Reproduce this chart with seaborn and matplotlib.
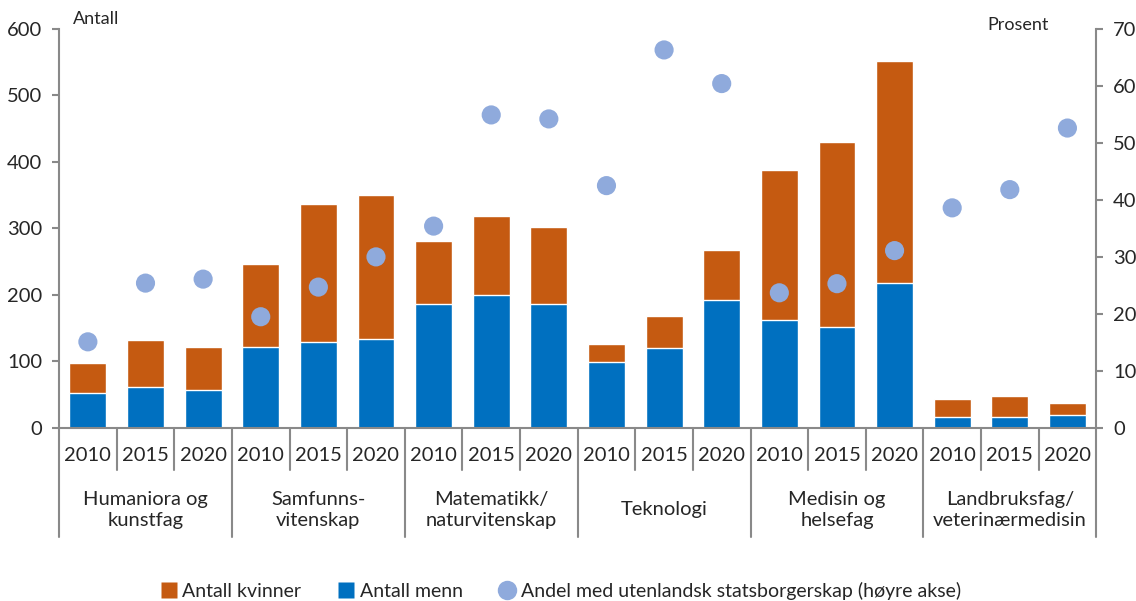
import seaborn as sns
import matplotlib.pyplot as plt
import matplotlib.transforms as mtransforms
from matplotlib.lines import Line2D
import pandas as pd

# data
groups = ['Humaniora og\nkunstfag', 'Samfunns-\nvitenskap', 'Matematikk/\nnaturvitenskap',
          'Teknologi', 'Medisin og\nhelsefag', 'Landbruksfag/\nveterinærmedisin']
years = ['2010', '2015', '2020']
menn = [52, 62, 57, 122, 129, 134, 186, 200, 186, 99, 120, 192, 162, 152, 218, 17, 17, 20]
totalt = [98, 132, 122, 247, 337, 350, 281, 319, 302, 126, 168, 268, 388, 430, 552, 44, 48, 38]
kvinner = [t - m for t, m in zip(totalt, menn)]
andel_utl = [15.1, 25.4, 26.1, 19.5, 24.7, 30.0, 35.4, 54.9, 54.2,
             42.5, 66.3, 60.4, 23.7, 25.3, 31.1, 38.6, 41.8, 52.6]

df = pd.DataFrame({
    'gruppe': [g for g in groups for _ in years],
    'aar': years * len(groups),
    'menn': menn,
    'kvinner': kvinner,
    'andel': andel_utl,
})
df['kat'] = df['gruppe'] + ' ' + df['aar']
df['pos'] = range(len(df))

sns.set_style('white')
plt.rcParams['font.family'] = ['Lato', 'DejaVu Sans']

grey = '#898989'
orange = '#C55A11'
blue = '#0070C0'
light = '#8FAADC'
fs = 14.5

fig = plt.figure(figsize=(11.36, 6.01), dpi=100)
ax = fig.add_axes([0.052, 0.288, 0.913, 0.664])

df['totalt'] = df['menn'] + df['kvinner']
sns.barplot(data=df, x='kat', y='totalt', color=orange, width=0.64, ax=ax, saturation=1)
sns.barplot(data=df, x='kat', y='menn', color=blue, width=0.64, ax=ax, saturation=1)
ax.set_xlim(-0.5, len(df) - 0.5)
ax.set_ylim(0, 600)
ax.set_yticks(range(0, 601, 100))
ax.set_xlabel('')
ax.set_ylabel('')
ax.set_xticks([])

ax2 = ax.twinx()
sns.scatterplot(data=df, x='pos', y='andel', color=light, s=190, edgecolor='none', ax=ax2, zorder=5)
ax2.set_ylim(0, 70)
ax2.set_yticks(range(0, 71, 10))
ax2.set_ylabel('')
ax2.set_xlim(-0.5, len(df) - 0.5)

for a in (ax, ax2):
    for s in a.spines.values():
        s.set_visible(False)
ax.spines['left'].set_visible(True)
ax.spines['left'].set_color(grey)
ax.spines['left'].set_linewidth(1.5)
ax.spines['bottom'].set_visible(True)
ax.spines['bottom'].set_color(grey)
ax.spines['bottom'].set_linewidth(1.5)
ax2.spines['right'].set_visible(True)
ax2.spines['right'].set_color(grey)
ax2.spines['right'].set_linewidth(1.5)

ax.tick_params(axis='y', length=5, width=1.5, color=grey, labelsize=fs, pad=7, left=True)
ax2.tick_params(axis='y', length=5, width=1.5, color=grey, labelsize=fs, pad=7, right=True)
ax2.set_xticks([])

# category axis: year labels, group labels, separators
trans = mtransforms.blended_transform_factory(ax.transData, ax.transAxes)
for i, row in df.iterrows():
    ax.text(i, -0.068, row['aar'], transform=trans, ha='center', va='center', fontsize=fs)
for j, g in enumerate(groups):
    ax.text(j * 3 + 1, -0.205, g, transform=trans, ha='center', va='center',
            fontsize=fs, linespacing=1.3)
for k in range(len(df) + 1):
    x = k - 0.5
    bottom = -0.273 if k % 3 == 0 else -0.105
    ax.add_line(Line2D([x, x], [0, bottom], transform=trans, color=grey, lw=1.5, clip_on=False))

fig.text(0.064, 0.968, 'Antall', fontsize=13, ha='left', va='center')
fig.text(0.896, 0.958, 'Prosent', fontsize=13, ha='center', va='center')

handles = [
    Line2D([], [], marker='s', color='none', markerfacecolor=orange, markeredgecolor='none', markersize=11),
    Line2D([], [], marker='s', color='none', markerfacecolor=blue, markeredgecolor='none', markersize=11),
    Line2D([], [], marker='o', color='none', markerfacecolor=light, markeredgecolor='none', markersize=14),
]
labels = ['Antall kvinner', 'Antall menn', 'Andel med utenlandsk statsborgerskap (høyre akse)']
fig.legend(handles, labels, loc='center', bbox_to_anchor=(0.493, 0.017), ncol=3, frameon=False,
           fontsize=14, handletextpad=0.2, columnspacing=1.8, handlelength=1.0)

fig.savefig('out.png', dpi=100)
